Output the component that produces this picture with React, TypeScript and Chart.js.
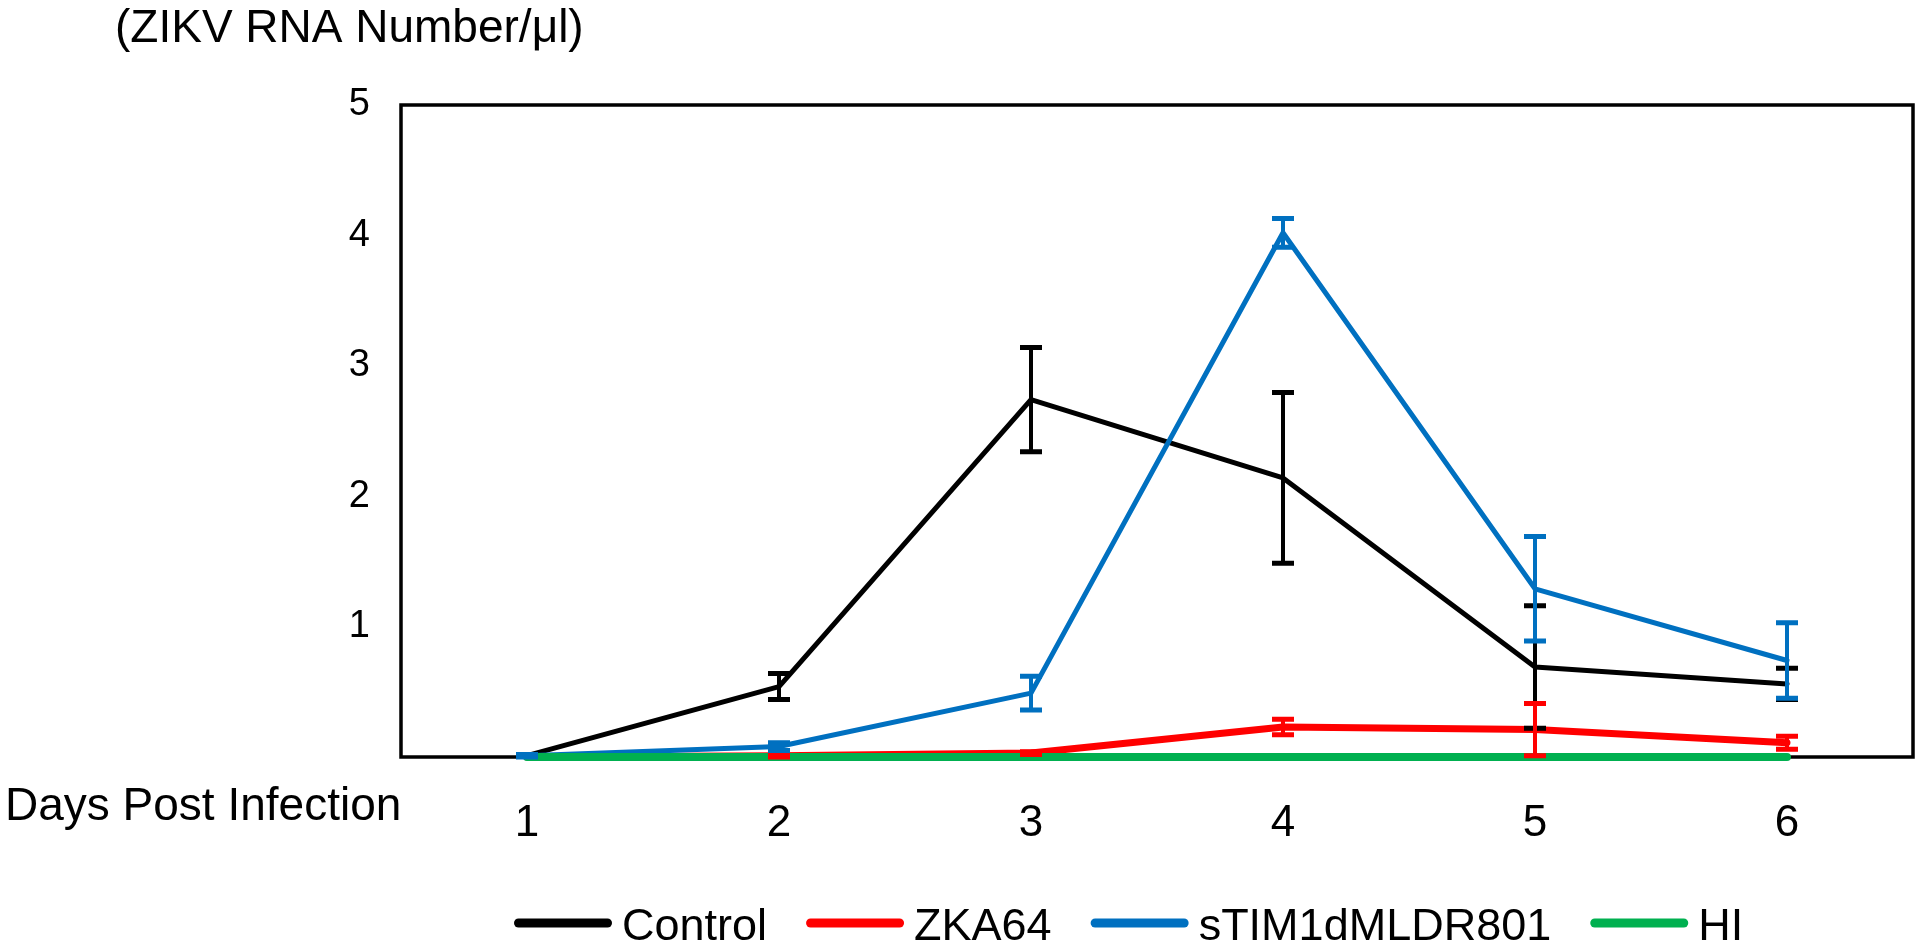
import React, { useEffect, useRef } from 'react';
import { Chart, registerables } from 'chart.js';

Chart.register(...registerables);

const days = ['1', '2', '3', '4', '5', '6'];
const seriesNames = ['Control', 'ZKA64', 'sTIM1dMLDR801', 'HI'];
const seriesColors = ['#000000', '#FF0000', '#0070C0', '#00B050'];
const controlValues = [0.01, 0.54, 2.74, 2.14, 0.69, 0.56];
const controlErrors = [0, 0.1, 0.4, 0.655, 0.47, 0.12];
const zka64Values = [0.0, 0.01, 0.03, 0.23, 0.21, 0.11];
const zka64Errors = [0, 0.01, 0.01, 0.06, 0.2, 0.05];
const stimValues = [0.01, 0.08, 0.49, 4.02, 1.29, 0.74];
const stimErrors = [0.01, 0.03, 0.13, 0.11, 0.4, 0.29];
const hiValues = [0, 0, 0, 0, 0, 0];
const hiErrors = [0, 0, 0, 0, 0, 0];
const yMin = 0;
const yMax = 5;
const yStep = 1;
const yAxisTitle = '(ZIKV RNA Number/μl)';
const xAxisTitle = 'Days Post Infection';

const FAMILY = '"Liberation Sans", Arial, Helvetica, sans-serif';

const customPlugin = {
  id: 'customDecor',
  beforeDatasetsDraw(chart: any) {
    const { ctx, chartArea } = chart;
    ctx.save();
    ctx.strokeStyle = '#000';
    ctx.lineWidth = 3.5;
    ctx.strokeRect(chartArea.left, chartArea.top, chartArea.right - chartArea.left, chartArea.bottom - chartArea.top);
    ctx.restore();
  },
  afterDatasetsDraw(chart: any) {
    const { ctx } = chart;
    const yScale = chart.scales.y;
    ctx.save();
    chart.data.datasets.forEach((ds: any, di: number) => {
      const errs: number[] = ds.errors || [];
      const meta = chart.getDatasetMeta(di);
      ctx.strokeStyle = ds.borderColor;
      ctx.lineCap = 'butt';
      meta.data.forEach((pt: any, i: number) => {
        const e = errs[i];
        if (!e) return;
        const v = ds.data[i];
        const x = pt.x;
        const yTop = yScale.getPixelForValue(v + e);
        const yBot = yScale.getPixelForValue(Math.max(0, v - e));
        ctx.lineWidth = 4;
        ctx.beginPath();
        ctx.moveTo(x, yTop);
        ctx.lineTo(x, yBot);
        ctx.stroke();
        ctx.lineWidth = 5;
        ctx.beginPath();
        ctx.moveTo(x - 11, yTop);
        ctx.lineTo(x + 11, yTop);
        ctx.moveTo(x - 11, yBot);
        ctx.lineTo(x + 11, yBot);
        ctx.stroke();
      });
    });
    ctx.restore();
  },
  afterDraw(chart: any) {
    const { ctx } = chart;
    ctx.save();
    ctx.fillStyle = '#000';
    ctx.textAlign = 'left';
    ctx.textBaseline = 'alphabetic';
    ctx.font = `46px ${FAMILY}`;
    ctx.fillText(yAxisTitle, 115, 42);
    ctx.fillText(xAxisTitle, 5, 820);

    // legend
    ctx.font = `45px ${FAMILY}`;
    let x = 514;
    const cy = 923;
    chart.data.datasets.forEach((ds: any) => {
      ctx.strokeStyle = ds.borderColor;
      ctx.lineWidth = 9;
      ctx.lineCap = 'round';
      ctx.beginPath();
      ctx.moveTo(x + 4.5, cy);
      ctx.lineTo(x + 98 - 4.5, cy);
      ctx.stroke();
      ctx.fillStyle = '#000';
      ctx.fillText(ds.label, x + 108, 940);
      const w = ctx.measureText(ds.label).width;
      x += 108 + w + 39;
    });
    ctx.restore();
  },
};

export default function App() {
  const canvasRef = useRef<HTMLCanvasElement | null>(null);

  useEffect(() => {
    if (!canvasRef.current) return;
    const valueSets = [controlValues, zka64Values, stimValues, hiValues];
    const errorSets = [controlErrors, zka64Errors, stimErrors, hiErrors];
    const widths = [5, 7, 5, 8];
    const orders = [4, 3, 2, 1];
    const chart = new Chart(canvasRef.current, {
      type: 'line',
      data: {
        labels: days,
        datasets: seriesNames.map((name, i) => ({
          label: name,
          data: valueSets[i],
          errors: errorSets[i],
          borderColor: seriesColors[i],
          backgroundColor: seriesColors[i],
          borderWidth: widths[i],
          pointRadius: 0,
          pointHoverRadius: 0,
          tension: 0,
          fill: false,
          clip: false,
          order: orders[i],
          borderCapStyle: 'round',
          borderJoinStyle: 'round',
        })) as any,
      },
      options: {
        animation: false,
        responsive: false,
        maintainAspectRatio: false,
        events: [],
        layout: { padding: { left: 0, top: 105, right: 7, bottom: 0 } },
        plugins: {
          legend: { display: false },
          tooltip: { enabled: false },
          title: { display: false },
        },
        scales: {
          x: {
            type: 'category',
            offset: true,
            grid: { display: false, drawTicks: false },
            border: { display: false },
            ticks: {
              color: '#000',
              font: { family: FAMILY, size: 44 },
              padding: 40,
              maxRotation: 0,
              autoSkip: false,
            },
            afterFit: (s: any) => {
              s.height = 187;
            },
          },
          y: {
            min: yMin,
            max: yMax,
            grid: { display: false, drawTicks: false },
            border: { display: false },
            ticks: {
              stepSize: yStep,
              color: '#000',
              font: { family: FAMILY, size: 38 },
              padding: 31,
              callback: (v: any) => (Number(v) === 0 ? '' : String(v)),
            },
            afterFit: (s: any) => {
              s.width = 401;
            },
          },
        },
      } as any,
      plugins: [customPlugin],
    });
    return () => chart.destroy();
  }, []);

  return (
    <div style={{ position: 'fixed', left: 0, top: 0, width: 1920, height: 944, background: '#fff' }}>
      <canvas ref={canvasRef} width={1920} height={944} style={{ display: 'block', width: 1920, height: 944 }} />
    </div>
  );
}
